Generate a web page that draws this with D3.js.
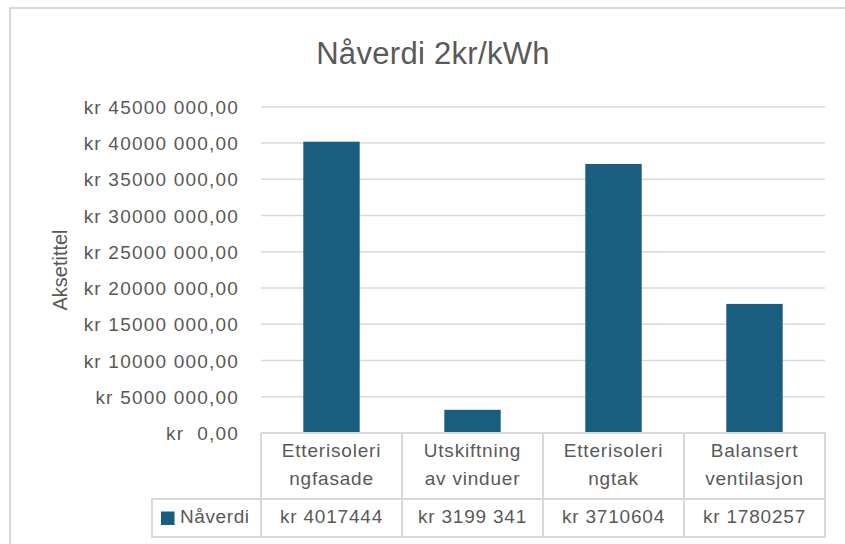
<!DOCTYPE html>
<html>
<head>
<meta charset="utf-8">
<script src="https://cdn.jsdelivr.net/npm/d3@7"></script>
<style>
  html, body { margin: 0; padding: 0; background: #fff; }
  svg text { font-family: "Liberation Sans Narrow", "Arial Narrow", "Liberation Sans", sans-serif; fill: #595959; }
</style>
</head>
<body>
<div id="chart"></div>
<script>
// chart data
const categories = ["Etterisolering fasade", "Utskiftning av vinduer", "Etterisolering tak", "Balansert ventilasjon"];
const categoryLines = [["Etterisoleri", "ngfasade"], ["Utskiftning", "av vinduer"], ["Etterisoleri", "ngtak"], ["Balansert", "ventilasjon"]];
const values = [40174440, 3199341, 37106040, 17802570];
const tableLabels = ["kr 4017444", "kr 3199 341", "kr 3710604", "kr 1780257"];
const tickValues = [0, 5000000, 10000000, 15000000, 20000000, 25000000, 30000000, 35000000, 40000000, 45000000];
const tickLabels = ["kr\u00a0\u00a00,00", "kr 5000 000,00", "kr 10000 000,00", "kr 15000 000,00", "kr 20000 000,00",
  "kr 25000 000,00", "kr 30000 000,00", "kr 35000 000,00", "kr 40000 000,00", "kr 45000 000,00"];
const seriesName = "Nåverdi";
const title = "Nåverdi 2kr/kWh";
const axisTitle = "Aksetittel";

const w = 845, h = 544;
const barColor = "#195e7e";
const gridColor = "#d9d9d9";

const svg = d3.select("#chart").append("svg")
  .attr("width", w).attr("height", h);

// outer frame (runs off the right and bottom edges)
svg.append("rect")
  .attr("x", 10).attr("y", 8)
  .attr("width", w + 20).attr("height", h + 20)
  .attr("fill", "#fff")
  .attr("stroke", gridColor).attr("stroke-width", 2);

const x = d3.scaleBand().domain(categories).range([261, 825]);
const y = d3.scaleLinear().domain([0, 45000000]).range([433, 106.7]);

// title
svg.append("text")
  .attr("x", 433).attr("y", 64)
  .attr("text-anchor", "middle")
  .style("font-size", "31px")
  .style("letter-spacing", "0.3px")
  .text(title);

// gridlines
svg.append("g").selectAll("line")
  .data(tickValues.slice(1))
  .join("line")
  .attr("x1", 261).attr("x2", 825)
  .attr("y1", d => y(d)).attr("y2", d => y(d))
  .attr("stroke", gridColor).attr("stroke-width", 1.5);

// y axis labels
const yAxis = d3.axisLeft(y)
  .tickValues(tickValues)
  .tickFormat((d, i) => tickLabels[i])
  .tickSize(0).tickPadding(0);
const yg = svg.append("g").attr("transform", "translate(239,0)").call(yAxis);
yg.select(".domain").remove();
yg.selectAll("text")
  .style("font-size", "19px")
  .style("letter-spacing", "1.2px")
  .attr("fill", "#595959")
  .attr("dy", "0.35em");

// axis title
svg.append("text")
  .attr("transform", "translate(67,270) rotate(-90)")
  .attr("text-anchor", "middle")
  .style("font-size", "20px")
  .text(axisTitle);

// bars
const bw = x.bandwidth() * 0.4;
svg.append("g").selectAll("rect")
  .data(values)
  .join("rect")
  .attr("x", (d, i) => x(categories[i]) + (x.bandwidth() - bw) / 2)
  .attr("y", d => y(d))
  .attr("width", bw)
  .attr("height", d => y(0) - y(d))
  .attr("fill", barColor);

// data table under the axis
const tableTop = y(0), rowMid = 499, tableBottom = 537, legendLeft = 152;
const tbl = svg.append("g").attr("stroke", gridColor).attr("stroke-width", 2).attr("fill", "none");
tbl.append("path")
  .attr("d", `M261,${tableTop}H825V${tableBottom}H${legendLeft}V${rowMid}H825`);
tbl.selectAll("line.v")
  .data(categories)
  .join("line")
  .attr("x1", d => x(d)).attr("x2", d => x(d))
  .attr("y1", tableTop).attr("y2", tableBottom);

// category labels (two lines)
const catG = svg.append("g").selectAll("text")
  .data(categories)
  .join("text")
  .attr("text-anchor", "middle")
  .style("font-size", "19px")
  .style("letter-spacing", "0.8px")
  .attr("x", d => x(d) + x.bandwidth() / 2);
catG.selectAll("tspan")
  .data((d, i) => categoryLines[i])
  .join("tspan")
  .attr("x", function () { return this.parentNode.getAttribute("x"); })
  .attr("y", (d, j) => 457 + j * 28)
  .text(d => d);

// value row
svg.append("g").selectAll("text")
  .data(tableLabels)
  .join("text")
  .attr("text-anchor", "middle")
  .style("font-size", "19px")
  .style("letter-spacing", "0.8px")
  .attr("x", (d, i) => x(categories[i]) + x.bandwidth() / 2)
  .attr("y", 523)
  .text(d => d);

// legend key in the table
svg.append("rect")
  .attr("x", 161).attr("y", 511.5)
  .attr("width", 13.5).attr("height", 13.5)
  .attr("fill", barColor);
svg.append("text")
  .attr("x", 180).attr("y", 523)
  .style("font-size", "19px")
  .style("letter-spacing", "0.6px")
  .text(seriesName);
</script>
</body>
</html>
